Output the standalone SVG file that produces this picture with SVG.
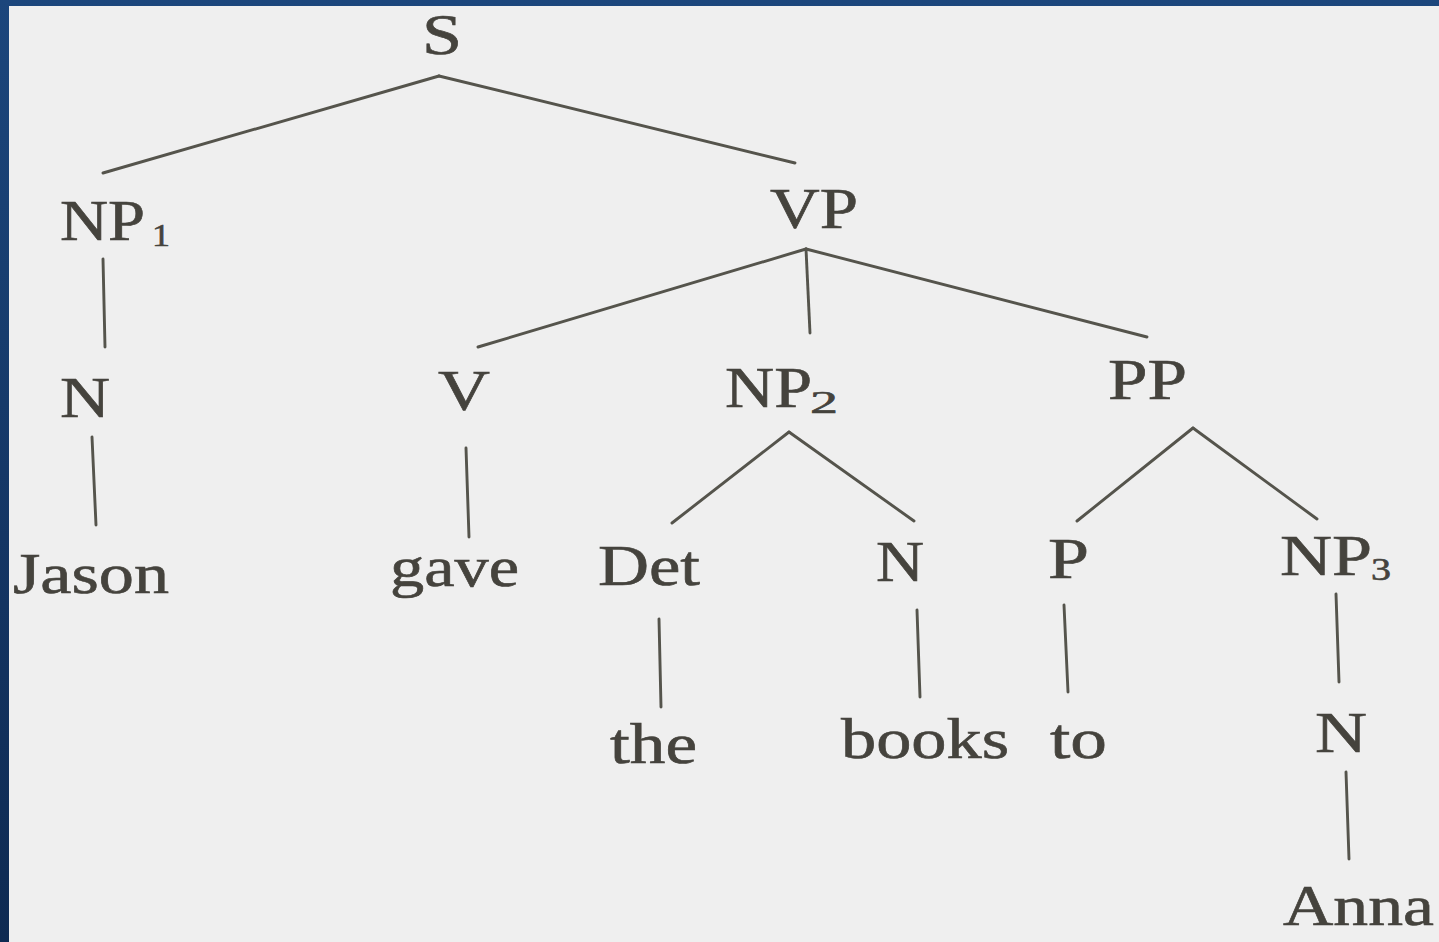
<svg xmlns="http://www.w3.org/2000/svg" width="1439" height="942" viewBox="0 0 1439 942">
<defs>
<linearGradient id="bl" x1="0" y1="0" x2="0" y2="1">
<stop offset="0" stop-color="#1c467c"/>
<stop offset="1" stop-color="#0e2a52"/>
</linearGradient>
<style>
text{font-family:"Liberation Serif","Times New Roman",serif;fill:#45433d;stroke:#45433d;stroke-width:0.6;}
.l{font-size:56px;}
.sub{font-size:32px;}
#connectors line{stroke:#55544c;stroke-width:2.9;stroke-linecap:round;}
</style>
</defs>
<rect x="0" y="0" width="1439" height="942" fill="url(#bl)"/>
<rect x="9" y="6" width="1430" height="936" fill="#efefef"/>
<g id="connectors">
<line x1="439" y1="76" x2="103" y2="173"/>
<line x1="439" y1="76" x2="795" y2="163"/>
<line x1="103" y1="259" x2="105" y2="347"/>
<line x1="92" y1="437" x2="96" y2="525"/>
<line x1="806" y1="249" x2="478" y2="347"/>
<line x1="806" y1="249" x2="810" y2="333"/>
<line x1="806" y1="249" x2="1147" y2="337"/>
<line x1="466" y1="448" x2="469" y2="537"/>
<line x1="789" y1="432" x2="672" y2="523"/>
<line x1="789" y1="432" x2="914" y2="521"/>
<line x1="659" y1="619" x2="661" y2="707"/>
<line x1="917" y1="610" x2="920" y2="697"/>
<line x1="1193" y1="428" x2="1077" y2="521"/>
<line x1="1193" y1="428" x2="1317" y2="519"/>
<line x1="1064" y1="605" x2="1068" y2="692"/>
<line x1="1336" y1="594" x2="1339" y2="682"/>
<line x1="1346" y1="772" x2="1349" y2="859"/>
</g>
<g id="node-S"><text class="l" x="422" y="54" textLength="40" lengthAdjust="spacingAndGlyphs">S</text></g>
<g id="node-NP1"><text class="l" x="60" y="240" textLength="85" lengthAdjust="spacingAndGlyphs">NP</text><text class="sub" x="152" y="246" textLength="18" lengthAdjust="spacingAndGlyphs">1</text></g>
<g id="node-N1"><text class="l" x="60" y="417" textLength="50" lengthAdjust="spacingAndGlyphs">N</text></g>
<g id="node-Jason"><text class="l" x="13" y="593" textLength="156" lengthAdjust="spacingAndGlyphs">Jason</text></g>
<g id="node-VP"><text class="l" x="770" y="228" textLength="88" lengthAdjust="spacingAndGlyphs">VP</text></g>
<g id="node-V"><text class="l" x="438" y="410" textLength="52" lengthAdjust="spacingAndGlyphs">V</text></g>
<g id="node-gave"><text class="l" x="390" y="586" textLength="129" lengthAdjust="spacingAndGlyphs">gave</text></g>
<g id="node-NP2"><text class="l" x="725" y="407" textLength="87" lengthAdjust="spacingAndGlyphs">NP</text><text class="sub" x="810" y="413" textLength="28" lengthAdjust="spacingAndGlyphs">2</text></g>
<g id="node-Det"><text class="l" x="598" y="585" textLength="102" lengthAdjust="spacingAndGlyphs">Det</text></g>
<g id="node-the"><text class="l" x="610" y="763" textLength="87" lengthAdjust="spacingAndGlyphs">the</text></g>
<g id="node-N2"><text class="l" x="876" y="581" textLength="48" lengthAdjust="spacingAndGlyphs">N</text></g>
<g id="node-books"><text class="l" x="841" y="758" textLength="168" lengthAdjust="spacingAndGlyphs">books</text></g>
<g id="node-PP"><text class="l" x="1108" y="399" textLength="79" lengthAdjust="spacingAndGlyphs">PP</text></g>
<g id="node-P"><text class="l" x="1048" y="578" textLength="41" lengthAdjust="spacingAndGlyphs">P</text></g>
<g id="node-to"><text class="l" x="1050" y="758" textLength="57" lengthAdjust="spacingAndGlyphs">to</text></g>
<g id="node-NP3"><text class="l" x="1280" y="575" textLength="92" lengthAdjust="spacingAndGlyphs">NP</text><text class="sub" x="1371" y="580" textLength="20" lengthAdjust="spacingAndGlyphs">3</text></g>
<g id="node-N3"><text class="l" x="1315" y="752" textLength="52" lengthAdjust="spacingAndGlyphs">N</text></g>
<g id="node-Anna"><text class="l" x="1283" y="925" textLength="151" lengthAdjust="spacingAndGlyphs">Anna</text></g>
</svg>
